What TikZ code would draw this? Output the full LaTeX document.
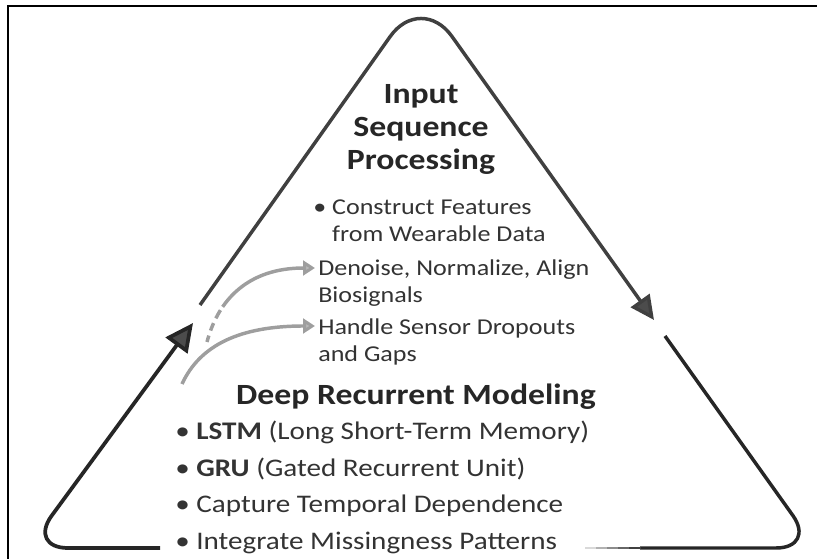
\documentclass[tikz,border=0pt]{standalone}
\usepackage{fontspec}
\setmainfont[FakeStretch=1.15]{Carlito}
\usetikzlibrary{positioning,arrows.meta}

\begin{document}
\begin{tikzpicture}[x=0.75pt, y=-0.75pt,
  side/.style={line width=2.6pt, draw=black!85, line join=round},
  feed/.style={line width=2.6pt, draw=black!38,
               -{Triangle[length=9pt, width=11pt, fill=black!28]}},
  head/.style={font=\fontsize{22}{24.75}\selectfont\bfseries, align=center,
               text=black!85, inner sep=0pt},
  txt/.style={font=\fontsize{17}{20.25}\selectfont, align=left, inner sep=0pt,
              text=black!80},
  item/.style={txt, font=\fontsize{19}{22}\selectfont, text height=13pt, text depth=4.5pt},
  node distance=9.5pt]

\useasboundingbox (0,0) rectangle (817,559);

% frame (top and left only)
\draw[line width=1.6pt] (8,559) -- (8,6) -- (817,6);

% corners of the triangle and the cuts in it
\coordinate (apex) at (421,-7);
\coordinate (bl) at (28,548);
\coordinate (br) at (816,548);
\coordinate (lcut) at (200,305);
\coordinate (ltip) at (193,323);
\coordinate (rtip) at (654,320);
\coordinate (rcut) at (665,336);
\coordinate (bgapl) at (160,548);
\coordinate (bgapr) at (640,548);

% top part: up the left side, down the right side
\draw[side, draw=black!75, rounded corners=40pt,
      -{Triangle[length=18pt, width=17pt, fill=black!70]}] (lcut) -- (apex) -- (rtip);
% bottom left: along the base and up to the cut
\draw[side, rounded corners=30pt, line width=2.8pt,
      -{Triangle[length=21pt, width=20pt, fill=black!70]}] (bgapl) -- (bl) -- (ltip);
% bottom right: from the cut down to the base
\draw[side, rounded corners=30pt] (rcut) -- (br) -- (bgapr);
\foreach \x/\c in {585/15,596/30,607/45,618/60,629/75}
  \draw[line width=2.2pt, draw=black!\c] (\x,548) -- ++(11.5,0);

% upper block
\node[head] (isp) at (421,129) {Input\\Sequence\\Processing};
\node[txt, anchor=north west] (cf) at (313,200)
  {\textbullet\ Construct Features\\\hphantom{\textbullet\ }from Wearable Data};
\node[txt, anchor=north west] (dn) at (318,259) {Denoise, Normalize, Align\\Biosignals};
\node[txt, anchor=north west] (hs) at (318,318) {Handle Sensor Dropouts\\and Gaps};

% feeds into the steps
\coordinate (f1) at (207,342);
\coordinate (f2) at (182,384);
\draw[feed, dash pattern=on 5pt off 4pt on 6pt off 4pt on 7pt off 3pt on 400pt]
  (f1) .. controls (218,300) and (248,268) .. ([shift={(-3,9)}]dn.north west);
\draw[feed] (f2) .. controls (200,345) and (240,326) .. ([shift={(-3,8)}]hs.north west);

% lower block
\node[head] (drm) at (416,397) {Deep Recurrent Modeling};
\node[item, anchor=west] (lstm) at (175,434)
  {\textbullet\ \textbf{LSTM} (Long Short-Term Memory)};
\node[item, below=of lstm.south west, anchor=north west] (gru)
  {\textbullet\ \textbf{GRU} (Gated Recurrent Unit)};
\node[item, below=of gru.south west, anchor=north west] (ctd)
  {\textbullet\ Capture Temporal Dependence};
\node[item, below=of ctd.south west, anchor=north west] (imp)
  {\textbullet\ Integrate Missingness Patterns};
\end{tikzpicture}
\end{document}
